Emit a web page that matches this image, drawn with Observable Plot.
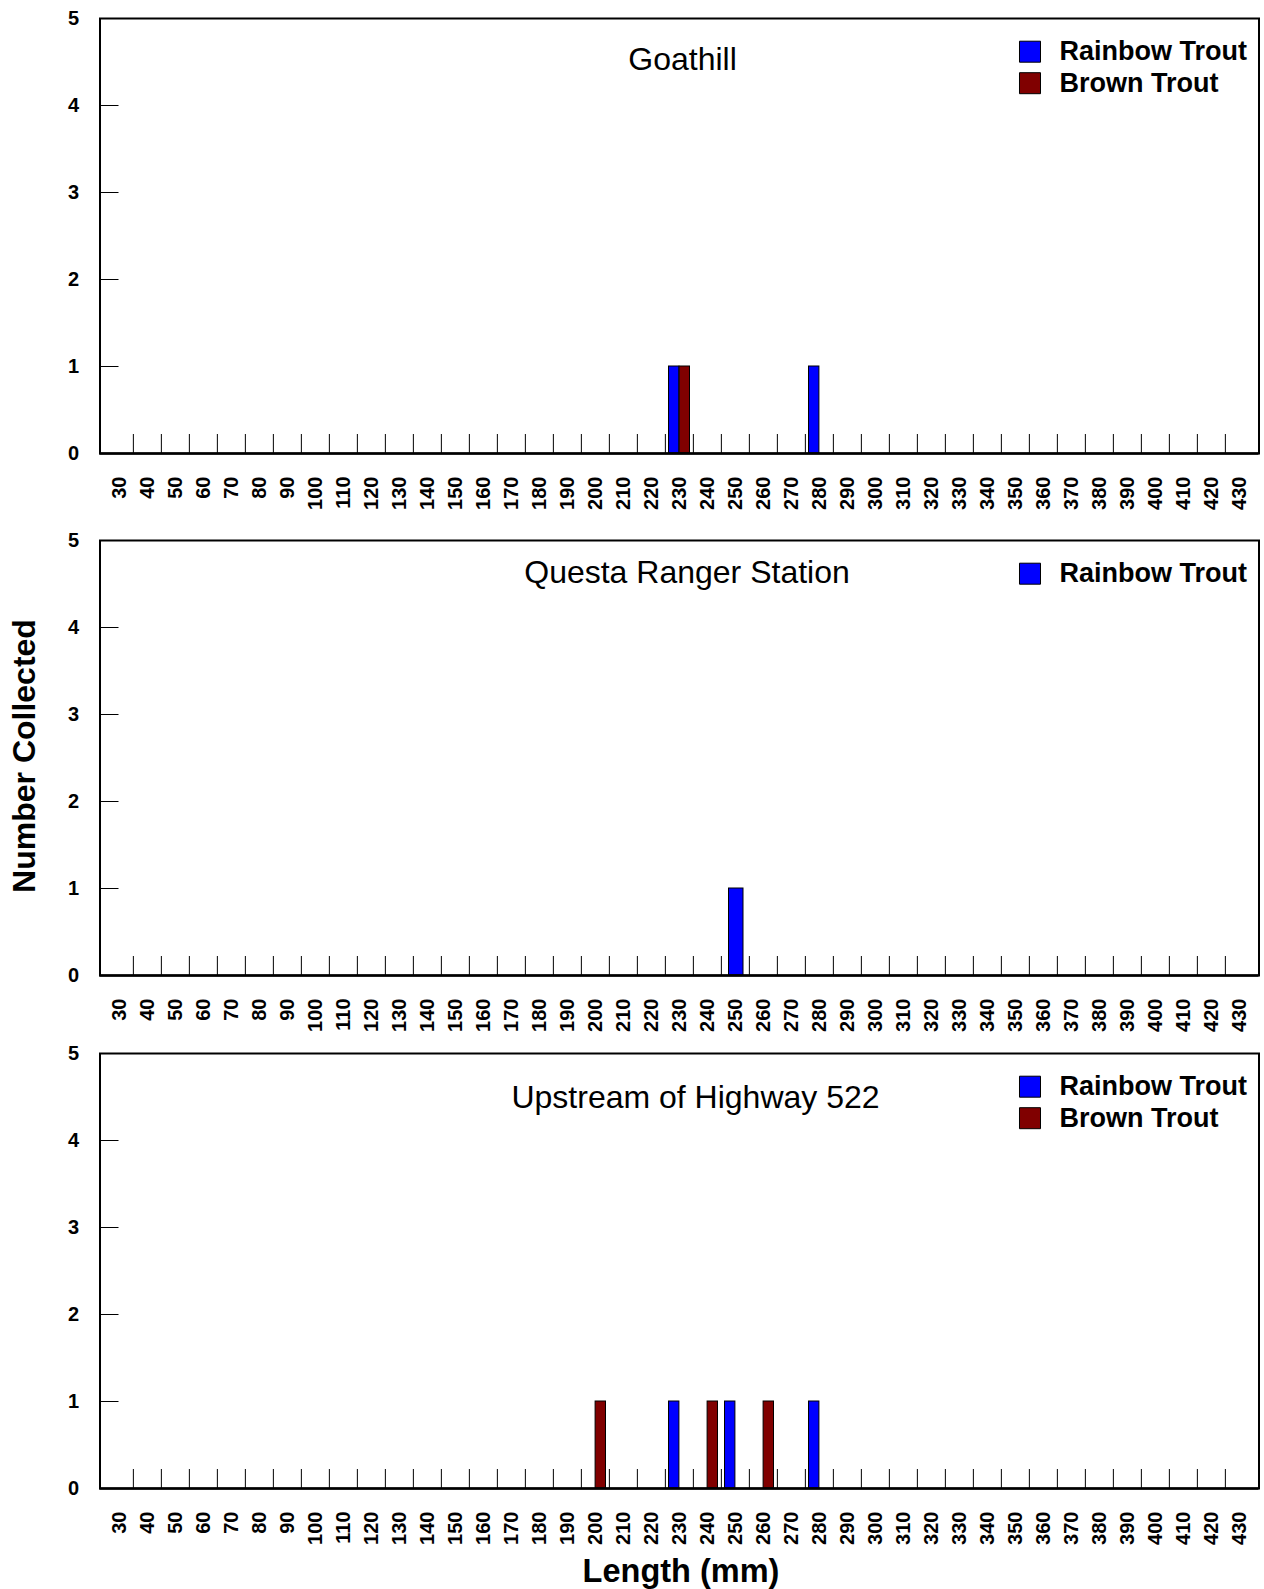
<!DOCTYPE html>
<html>
<head>
<meta charset="utf-8">
<script src="https://cdn.jsdelivr.net/npm/d3@7"></script>
<script src="https://cdn.jsdelivr.net/npm/@observablehq/plot@0.6"></script>
<style>
  body { margin: 0; background: #fff; }
  #wrap { position: relative; width: 1264px; height: 1589px; font-family: "Liberation Sans", Arial, sans-serif; background: #fff; }
  .panel { position: absolute; left: 0; }
  #ylab { position: absolute; left: 24px; top: 756px; transform: translate(-50%, -50%) rotate(-90deg); font-weight: bold; font-size: 32px; white-space: nowrap; line-height: 1; }
  #xlab { position: absolute; left: 681px; top: 1555px; transform: translateX(-50%); font-weight: bold; font-size: 32.5px; white-space: nowrap; line-height: 1; }
</style>
</head>
<body>
<div id="wrap">
  <div id="ylab">Number Collected</div>
  <div id="xlab">Length (mm)</div>
</div>
<script>
// ---- Data ----
const lengths = [30, 40, 50, 60, 70, 80, 90, 100, 110, 120, 130, 140, 150, 160, 170, 180, 190, 200, 210, 220, 230, 240, 250, 260, 270, 280, 290, 300, 310, 320, 330, 340, 350, 360, 370, 380, 390, 400, 410, 420, 430];
const yTicks = [0, 1, 2, 3, 4, 5];
const siteNames = ["Goathill", "Questa Ranger Station", "Upstream of Highway 522"];
const speciesNames = ["Rainbow Trout", "Brown Trout"];
const speciesColors = ["#0000ff", "#800000"];

// [length (mm), number collected]
const goathillRainbow = [[230, 1], [280, 1]];
const goathillBrown = [[230, 1]];
const questaRainbow = [[250, 1]];
const upstreamRainbow = [[230, 1], [250, 1], [280, 1]];
const upstreamBrown = [[200, 1], [240, 1], [260, 1]];

// ---- Layout ----
const W = 1264, ML = 99.5, MR = 5.5, MT = 18, PH = 435, MB = 62;
const bw = (W - ML - MR) / lengths.length;
const noLabel = () => "";

const panels = [
  { title: siteNames[0], tdx: 3, tdy: 51, top: 18,
    series: [
      { name: speciesNames[0], color: speciesColors[0], data: goathillRainbow, il: 3.5, ir: 14.1 },
      { name: speciesNames[1], color: speciesColors[1], data: goathillBrown, il: 14.1, ir: 3.5 }
    ] },
  { title: siteNames[1], tdx: 7.5, tdy: 42, top: 540,
    series: [
      { name: speciesNames[0], color: speciesColors[0], data: questaRainbow, il: 7.5, ir: 6 }
    ] },
  { title: siteNames[2], tdx: 16, tdy: 54, top: 1053,
    series: [
      { name: speciesNames[0], color: speciesColors[0], data: upstreamRainbow, il: 3.5, ir: 14.1 },
      { name: speciesNames[1], color: speciesColors[1], data: upstreamBrown, il: 14.1, ir: 3.5 }
    ] }
];

const wrap = document.getElementById("wrap");

for (const p of panels) {
  const marks = [
    Plot.axisY({ ticks: yTicks, tickSize: 0, tickPadding: 21, tickFormat: "d", fontSize: 20, fontWeight: "bold", label: null, fill: "black" }),
    Plot.axisY({ ticks: yTicks.slice(1, -1), tickSize: -19, tickFormat: noLabel, label: null, stroke: "black" }),
    Plot.axisX({ ticks: lengths, tickSize: 0, tickPadding: 23, tickRotate: -90, tickFormat: d => String(d), fontSize: 20, fontWeight: "bold", label: null, fill: "black" }),
    Plot.axisX({ ticks: lengths.slice(1), tickSize: -19, tickFormat: noLabel, label: null, dx: -bw / 2, stroke: "black" })
  ];
  for (const s of p.series) {
    marks.push(Plot.barY(s.data, {
      x: d => d[0], y: d => d[1],
      fill: s.color, stroke: "black", strokeWidth: 1,
      insetLeft: s.il, insetRight: s.ir
    }));
  }
  marks.push(Plot.frame({ stroke: "black", strokeWidth: 2 }));
  marks.push(Plot.ruleY([0], { stroke: "black", strokeWidth: 2.5 }));
  marks.push(Plot.text([p.title], {
    text: d => d, frameAnchor: "top", dx: p.tdx, dy: p.tdy,
    lineAnchor: "bottom", fontSize: 32, fill: "black"
  }));
  p.series.forEach((s, i) => {
    marks.push(Plot.dot([s.name], {
      frameAnchor: "top-right", dx: -229, dy: 33.2 + i * 31.5,
      symbol: "square", r: 11.85, fill: s.color, stroke: "black", strokeWidth: 1
    }));
    marks.push(Plot.text([s.name], {
      text: d => d, frameAnchor: "top-right", dx: -199.5, dy: 41.5 + i * 31.7,
      textAnchor: "start", lineAnchor: "bottom", fontSize: 27, fontWeight: "bold", fill: "black"
    }));
  });

  const svg = Plot.plot({
    width: W,
    height: MT + PH + MB,
    marginLeft: ML, marginRight: MR, marginTop: MT, marginBottom: MB,
    style: { fontFamily: '"Liberation Sans", Arial, sans-serif', background: "transparent", overflow: "visible" },
    x: { type: "band", domain: lengths, padding: 0 },
    y: { domain: [0, 5] },
    marks
  });
  svg.classList.add("panel");
  svg.style.position = "absolute";
  svg.style.top = (p.top - MT) + "px";
  svg.style.left = "0px";
  wrap.appendChild(svg);
}
</script>
</body>
</html>
